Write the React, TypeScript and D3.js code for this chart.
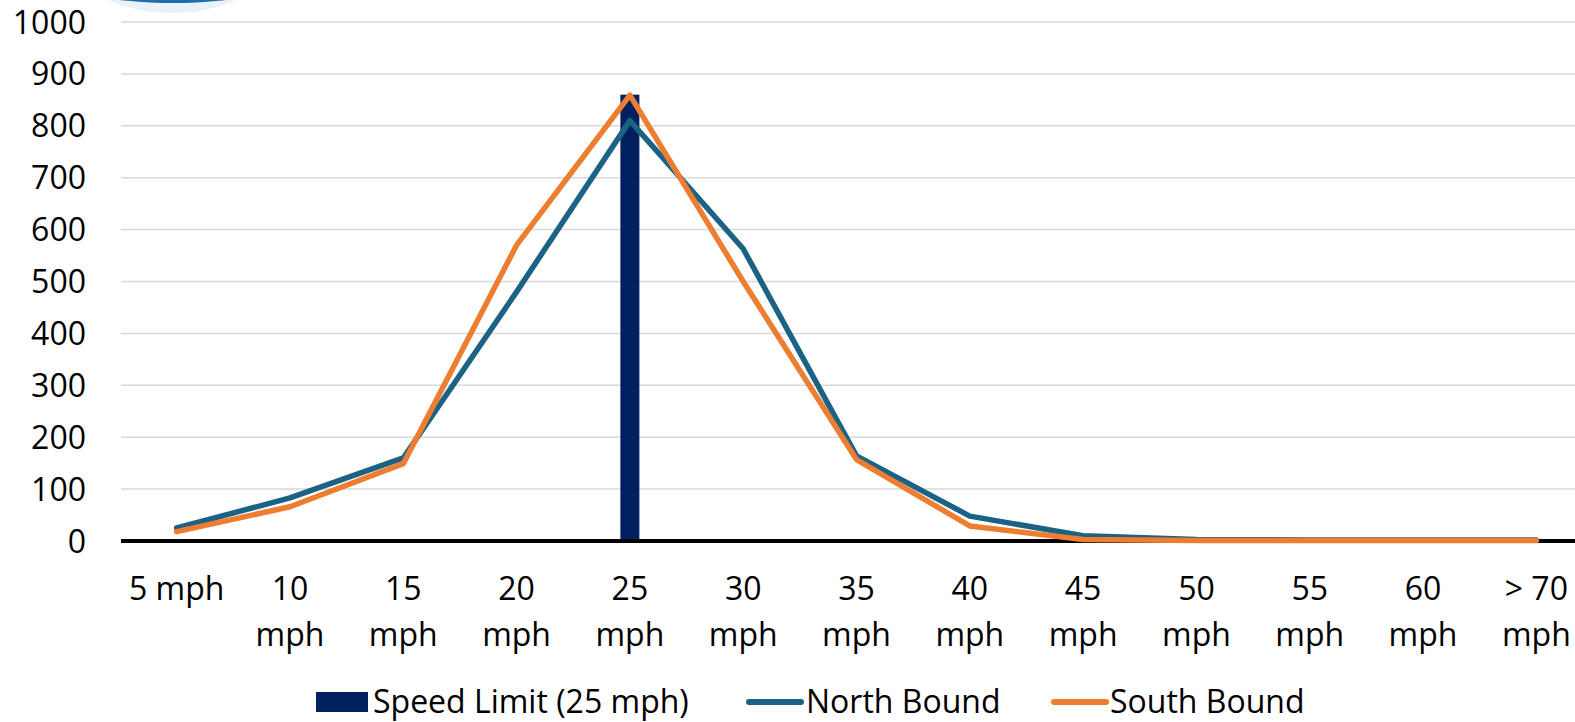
import React from "react";
import * as d3 from "d3";

const categories = ["5 mph", "10 mph", "15 mph", "20 mph", "25 mph", "30 mph", "35 mph", "40 mph", "45 mph", "50 mph", "55 mph", "60 mph", "> 70 mph"];
const northBound = [25, 83, 160, 480, 810, 563, 164, 48, 10, 3, 2, 2, 2];
const southBound = [18, 66, 149, 570, 859, 500, 157, 29, 3, 1, 1, 1, 1];
const speedLimitCategory = "25 mph";
const speedLimitValue = 860;
const yTicks = [0, 100, 200, 300, 400, 500, 600, 700, 800, 900, 1000];
const legendItems = ["Speed Limit (25 mph)", "North Bound", "South Bound"];

const W = 1575;
const H = 722;
const FONT = "'Open Sans', Lato, sans-serif";
const NAVY = "#002060";
const BLUE = "#1b6285";
const ORANGE = "#ed7d31";

function splitLabel(s: string): string[] {
  if (s === "5 mph") return [s];
  const idx = s.lastIndexOf(" ");
  return [s.slice(0, idx), s.slice(idx + 1)];
}

export default function App() {
  const x = d3.scaleBand<string>().domain(categories).range([120, 1593]).paddingInner(0).paddingOuter(0);
  const y = d3.scaleLinear().domain([0, 1000]).range([541, 22]);
  const cx = (c: string) => (x(c) ?? 0) + x.bandwidth() / 2;
  const line = d3
    .line<number>()
    .x((_, i) => cx(categories[i]))
    .y((d) => y(d));
  const barW = 19;

  return (
    <svg width={W} height={H} style={{ position: "absolute", left: 0, top: 0, background: "#fff" }} fontFamily={FONT}>
      <defs>
        <radialGradient id="blob" cx="50%" cy="30%" r="70%">
          <stop offset="0%" stopColor="#6cb8ec" />
          <stop offset="70%" stopColor="#2a86cc" />
          <stop offset="100%" stopColor="#1a6aa8" />
        </radialGradient>
      </defs>
      <ellipse cx={172} cy={-30} rx={88} ry={43} fill="#e3edf4" opacity={0.75} />
      <ellipse cx={173} cy={-25} rx={118} ry={28} fill="url(#blob)" />
      {yTicks.map((t) => (
        <g key={t}>
          {t !== 0 && <line x1={121} x2={W} y1={y(t)} y2={y(t)} stroke="#d9d9d9" strokeWidth={1.5} />}
          <text x={86} y={y(t)} dy="0.36em" textAnchor="end" fontSize={32} fill="#000">
            {t}
          </text>
        </g>
      ))}
      <rect
        x={cx(speedLimitCategory) - barW / 2}
        y={y(speedLimitValue)}
        width={barW}
        height={y(0) - y(speedLimitValue)}
        fill={NAVY}
      />
      <line x1={121} x2={W} y1={y(0)} y2={y(0)} stroke="#000" strokeWidth={4} />
      <path d={line(northBound) ?? ""} fill="none" stroke={BLUE} strokeWidth={5.5} strokeLinejoin="round" strokeLinecap="round" />
      <path d={line(southBound) ?? ""} fill="none" stroke={ORANGE} strokeWidth={5.5} strokeLinejoin="round" strokeLinecap="round" />
      {categories.map((c) =>
        splitLabel(c).map((part, j) => (
          <text key={c + j} x={cx(c)} y={600 + j * 46} textAnchor="middle" fontSize={32} fill="#000">
            {part}
          </text>
        ))
      )}
      <g fontSize={32} fill="#000">
        <rect x={316} y={692} width={52} height={20} fill={NAVY} />
        <text x={373} y={713}>{legendItems[0]}</text>
        <line x1={749} x2={801} y1={702} y2={702} stroke={BLUE} strokeWidth={6} strokeLinecap="round" />
        <text x={806} y={713}>{legendItems[1]}</text>
        <line x1={1054} x2={1106} y1={702} y2={702} stroke={ORANGE} strokeWidth={6} strokeLinecap="round" />
        <text x={1110} y={713}>{legendItems[2]}</text>
      </g>
    </svg>
  );
}
